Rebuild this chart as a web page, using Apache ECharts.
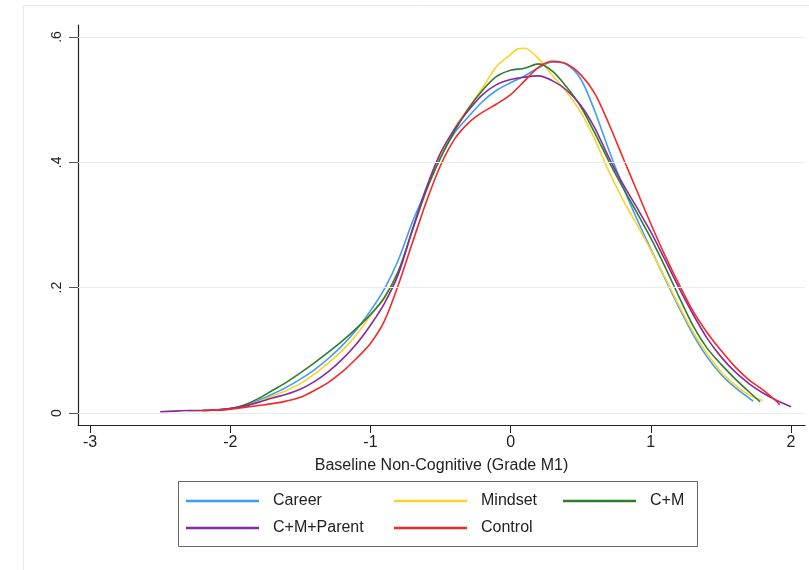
<!DOCTYPE html>
<html>
<head>
<meta charset="utf-8">
<script src="https://cdn.jsdelivr.net/npm/echarts@6/dist/echarts.min.js"></script>
<style>
  html, body { margin: 0; padding: 0; background: #fff; }
  #main { width: 809px; height: 570px; }
</style>
</head>
<body>
<div id="main"></div>
<script>
// kernel density estimates: [x, density]
var career = [[-2.2,0.004],[-2.1,0.005],[-2.0,0.007],[-1.9,0.012],[-1.8,0.020],[-1.7,0.030],[-1.6,0.041],[-1.5,0.054],[-1.4,0.069],[-1.3,0.087],[-1.2,0.108],[-1.1,0.133],[-1.0,0.163],[-0.9,0.198],[-0.8,0.245],[-0.7,0.305],[-0.6,0.357],[-0.5,0.408],[-0.4,0.447],[-0.3,0.473],[-0.2,0.497],[-0.1,0.515],[0.0,0.527],[0.1,0.538],[0.2,0.551],[0.3,0.560],[0.4,0.556],[0.5,0.533],[0.6,0.482],[0.7,0.420],[0.8,0.362],[0.9,0.310],[1.0,0.262],[1.1,0.215],[1.2,0.169],[1.3,0.126],[1.4,0.090],[1.5,0.062],[1.6,0.041],[1.7,0.024],[1.73,0.019]];
var mindset = [[-2.3,0.003],[-2.2,0.004],[-2.1,0.005],[-2.0,0.006],[-1.9,0.011],[-1.8,0.018],[-1.7,0.027],[-1.6,0.036],[-1.5,0.047],[-1.4,0.062],[-1.3,0.080],[-1.2,0.100],[-1.1,0.125],[-1.0,0.155],[-0.9,0.186],[-0.8,0.226],[-0.7,0.292],[-0.6,0.355],[-0.5,0.410],[-0.4,0.455],[-0.3,0.487],[-0.2,0.519],[-0.1,0.553],[0.0,0.572],[0.05,0.581],[0.1,0.582],[0.2,0.565],[0.3,0.538],[0.4,0.512],[0.5,0.480],[0.6,0.437],[0.7,0.386],[0.8,0.341],[0.9,0.301],[1.0,0.260],[1.1,0.217],[1.2,0.172],[1.3,0.130],[1.4,0.095],[1.5,0.066],[1.6,0.045],[1.7,0.029],[1.8,0.020]];
var cm = [[-2.1,0.004],[-2.0,0.007],[-1.9,0.013],[-1.8,0.023],[-1.7,0.036],[-1.6,0.049],[-1.5,0.064],[-1.4,0.080],[-1.3,0.097],[-1.2,0.115],[-1.1,0.135],[-1.0,0.157],[-0.9,0.184],[-0.8,0.227],[-0.7,0.292],[-0.6,0.356],[-0.5,0.407],[-0.4,0.450],[-0.3,0.486],[-0.2,0.515],[-0.1,0.537],[0.0,0.547],[0.1,0.550],[0.2,0.557],[0.3,0.545],[0.4,0.520],[0.5,0.489],[0.6,0.447],[0.7,0.402],[0.8,0.360],[0.9,0.320],[1.0,0.279],[1.1,0.234],[1.2,0.186],[1.3,0.140],[1.4,0.104],[1.5,0.078],[1.6,0.055],[1.7,0.034],[1.78,0.018]];
var parent = [[-2.5,0.002],[-2.4,0.003],[-2.3,0.004],[-2.2,0.004],[-2.1,0.005],[-2.0,0.007],[-1.9,0.011],[-1.8,0.017],[-1.7,0.024],[-1.6,0.030],[-1.5,0.038],[-1.4,0.050],[-1.3,0.066],[-1.2,0.086],[-1.1,0.110],[-1.0,0.140],[-0.9,0.175],[-0.8,0.222],[-0.7,0.293],[-0.6,0.360],[-0.5,0.415],[-0.4,0.453],[-0.3,0.483],[-0.2,0.508],[-0.1,0.524],[0.0,0.532],[0.1,0.536],[0.2,0.538],[0.3,0.530],[0.4,0.515],[0.5,0.491],[0.6,0.455],[0.7,0.408],[0.8,0.366],[0.9,0.328],[1.0,0.289],[1.1,0.245],[1.2,0.200],[1.3,0.158],[1.4,0.120],[1.5,0.090],[1.6,0.066],[1.7,0.047],[1.8,0.032],[1.9,0.020],[2.0,0.010]];
var control = [[-2.2,0.004],[-2.1,0.005],[-2.0,0.006],[-1.9,0.009],[-1.8,0.012],[-1.7,0.015],[-1.6,0.019],[-1.5,0.025],[-1.4,0.036],[-1.3,0.049],[-1.2,0.066],[-1.1,0.087],[-1.0,0.111],[-0.9,0.147],[-0.8,0.205],[-0.7,0.272],[-0.6,0.338],[-0.5,0.395],[-0.4,0.437],[-0.3,0.463],[-0.2,0.480],[-0.1,0.493],[0.0,0.508],[0.1,0.530],[0.2,0.552],[0.3,0.561],[0.4,0.557],[0.5,0.540],[0.6,0.510],[0.7,0.462],[0.8,0.408],[0.9,0.355],[1.0,0.302],[1.1,0.252],[1.2,0.206],[1.3,0.163],[1.4,0.129],[1.5,0.100],[1.6,0.074],[1.7,0.053],[1.8,0.037],[1.9,0.018],[1.92,0.013]];

var names = ['Career', 'Mindset', 'C+M', 'C+M+Parent', 'Control'];
var colors = ['#3d9df5', '#fdd22a', '#2e7d2e', '#8a2a9e', '#f52828'];
var xTicks = [-3, -2, -1, 0, 1, 2];
var yTicks = [0, 0.2, 0.4, 0.6];

var mychart = echarts.init(document.getElementById('main'));

var font = 'Liberation Sans, Arial, sans-serif';
var allData = [career, mindset, cm, parent, control];

var series = allData.map(function (d, i) {
    var s = {
        name: names[i],
        type: 'line',
        data: d,
        smooth: 0.3,
        showSymbol: false,
        symbol: 'none',
        silent: true,
        lineStyle: { color: colors[i], width: 1.6 },
        itemStyle: { color: colors[i] }
    };
    if (i === 0) {
        // light grid lines at the y ticks
        s.markLine = {
            silent: true,
            symbol: 'none',
            label: { show: false },
            lineStyle: { color: '#e6eef0', width: 1, type: 'solid' },
            data: yTicks.map(function (v) { return { yAxis: v }; })
        };
    }
    return s;
});

function legendCol(left, items) {
    return {
        left: left,
        top: 493,
        orient: 'vertical',
        padding: 0,
        itemGap: 11,
        itemWidth: 73,
        itemHeight: 2.5,
        icon: 'rect',
        selectedMode: false,
        textStyle: { fontFamily: font, fontSize: 16, color: '#222', padding: [0, 0, 0, 9] },
        data: items
    };
}

option = {
    animation: false,
    backgroundColor: '#fff',
    grid: { left: 78, right: 4, top: 25, bottom: 145 },
    xAxis: {
        type: 'value',
        min: -3.086,
        max: 2.1,
        name: 'Baseline Non-Cognitive (Grade M1)',
        nameLocation: 'middle',
        nameGap: 33,
        nameTextStyle: { fontFamily: font, fontSize: 16, color: '#222' },
        axisLine: { onZero: false, lineStyle: { color: '#222', width: 1.2 } },
        axisTick: { show: true, length: 8, customValues: xTicks, lineStyle: { color: '#222' } },
        axisLabel: { customValues: xTicks, fontFamily: font, fontSize: 16, color: '#222', margin: 10 },
        splitLine: { show: false }
    },
    yAxis: {
        type: 'value',
        min: -0.0191,
        max: 0.6191,
        axisLine: { show: true, onZero: false, lineStyle: { color: '#222', width: 1.2 } },
        axisTick: { show: true, length: 9, customValues: yTicks, lineStyle: { color: '#555' } },
        axisLabel: {
            customValues: yTicks,
            rotate: 90,
            fontFamily: font,
            fontSize: 14,
            color: '#222',
            margin: 14,
            formatter: function (v) { return v === 0 ? '0' : String(+v.toFixed(1)).replace('0.', '.'); }
        },
        splitLine: { show: false }
    },
    legend: [
        legendCol(186, ['Career', 'C+M+Parent']),
        legendCol(394, ['Mindset', 'Control']),
        legendCol(563, ['C+M'])
    ],
    graphic: [
        {
            type: 'rect',
            silent: true,
            shape: { x: 23.5, y: 5.5, width: 820, height: 600 },
            style: { fill: 'none', stroke: '#e2eaec', lineWidth: 1 }
        },
        {
            type: 'rect',
            silent: true,
            shape: { x: 178.5, y: 481.5, width: 519, height: 65 },
            style: { fill: 'none', stroke: '#666', lineWidth: 1 }
        }
    ],
    series: series
};
mychart.setOption(option);
</script>
</body>
</html>
